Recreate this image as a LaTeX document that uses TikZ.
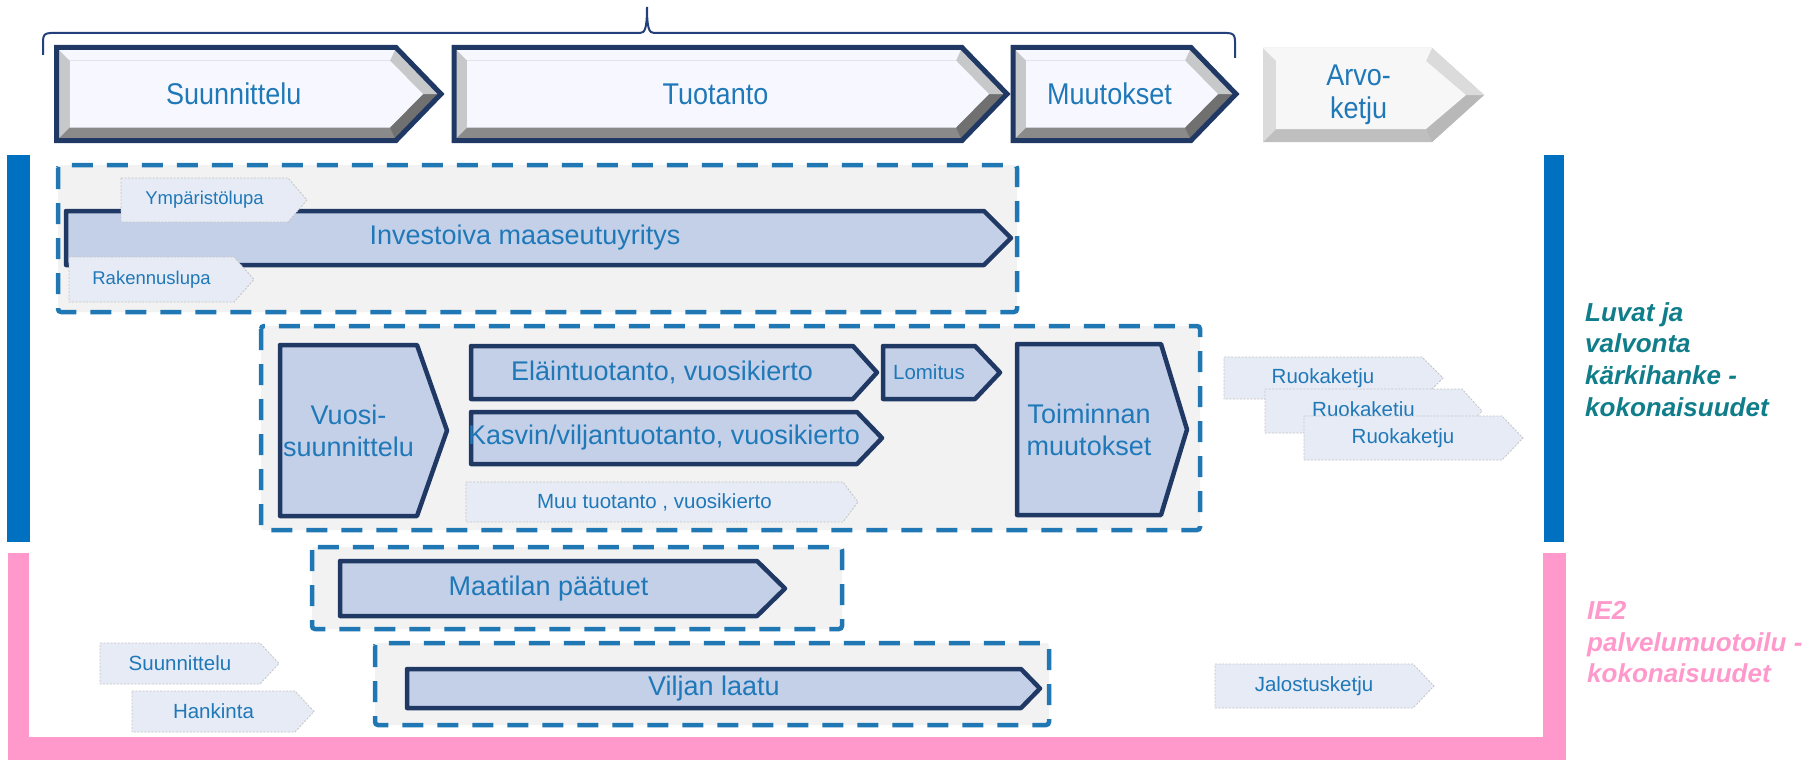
\documentclass[tikz,border=0pt]{standalone}
\usepackage{fontspec}
\setmainfont{Liberation Sans}
\newfontfamily\narrowfont{Liberation Sans}[FakeStretch=0.9]

\definecolor{navy}{HTML}{203864}
\definecolor{textblue}{HTML}{1F78B8}
\definecolor{dashblue}{HTML}{1F78B4}
\definecolor{chevfill}{HTML}{C4D0E8}
\definecolor{tagfill}{HTML}{E6EBF5}
\definecolor{taggray}{HTML}{C4C4C4}
\definecolor{groupfill}{HTML}{F2F2F2}
\definecolor{barblue}{HTML}{0070C0}
\definecolor{barpink}{HTML}{FF99CC}
\definecolor{labelteal}{HTML}{0F7D8A}
\definecolor{bracenavy}{HTML}{24407A}

\tikzset{
	flowbox/.style={fill=chevfill, draw=navy, line width=4.5pt, line join=round},
	flowbox text/.style={text=textblue, font=\fontsize{27}{32}\selectfont, align=center, inner sep=0pt},
	flowsmall/.style={flowbox},
	flowsmall text/.style={flowbox text, font=\fontsize{20.5}{24}\selectfont},
	tagbox/.style={fill=tagfill, draw=taggray, line width=0.8pt, dash pattern=on 2pt off 1.5pt},
	tagbox text/.style={text=textblue, font=\fontsize{20.5}{24}\selectfont, inner sep=0pt},
	smalltag/.style={tagbox},
	smalltag text/.style={tagbox text, font=\fontsize{18.5}{22}\selectfont},
	groupbox/.style={fill=groupfill, draw=dashblue, line width=4.5pt, dash pattern=on 21pt off 14pt, rounded corners=3pt},
	bevel low/.style={fill=black!46},
	bevel shade/.style={fill=black!56},
	bevel high/.style={fill=navy!8!black!22},
	bevel top/.style={fill=white!97!blue},
	bevel face/.style={fill=blue!3!white},
	bevel edge/.style={draw=navy, line width=5pt, line join=miter},
	bevel text/.style={text=textblue, font=\narrowfont\fontsize{30}{33}\selectfont, align=center, inner sep=0pt},
	sidelabel/.style={font=\bfseries\itshape\fontsize{26}{31.7}\selectfont, align=left, inner sep=0pt, anchor=north west},
	bracket/.style={draw=bracenavy, line width=2pt}
}

% arrow shaped box: [style]{name}{x1}{y1}{x2}{y2}{tip depth}{text}
\newcommand{\arrowbox}[8][flowbox]{%
	\path[#1] (#3,#4) -- (#5-#7,#4) -- (#5,{(#4+#6)/2}) -- (#5-#7,#6) -- (#3,#6) -- cycle;
	\node[#1 text] (#2) at ({(#3+#5-#7)/2},{(#4+#6)/2}) {#8};
}

% bevelled phase arrow: {name}{x1}{y1}{x2}{y2}{tip depth}{text}
\newcommand{\bevelbox}[7]{%
	\path[bevel low] (#2,#3) -- (#4-#6,#3) -- (#4,{(#3+#5)/2}) -- (#4-#6,#5) -- (#2,#5) -- cycle;
	\path[bevel shade] (#4,{(#3+#5)/2}) -- (#4-#6,#5) -- (#4-#6-6,#5-13) -- (#4-18,{(#3+#5)/2}) -- cycle;
	\path[bevel high] (#2,#3) -- (#4-#6,#3) -- (#4,{(#3+#5)/2}) -- (#4-18,{(#3+#5)/2}) -- (#4-#6-6,#3+13) -- (#2+13,#3+13) -- (#2+13,#5-13) -- (#2,#5) -- cycle;
	\path[bevel top] (#2,#3) -- (#4-#6,#3) -- (#4-#6-6,#3+13) -- (#2+13,#3+13) -- cycle;
	\path[bevel face] (#2+13,#3+13) -- (#4-#6-6,#3+13) -- (#4-18,{(#3+#5)/2}) -- (#4-#6-6,#5-13) -- (#2+13,#5-13) -- cycle;
	\path[bevel edge] (#2,#3) -- (#4-#6,#3) -- (#4,{(#3+#5)/2}) -- (#4-#6,#5) -- (#2,#5) -- cycle;
	\node[bevel text] (#1) at ({(#2+#4-30)/2},{(#3+#5)/2}) {#7};
}

\begin{document}
\begin{tikzpicture}[x=1pt, y=-1pt]
\useasboundingbox (0,0) rectangle (1812,760);

% side bars
\fill[barblue] (7,155) rectangle (30,542);
\fill[barblue] (1544,155) rectangle (1564,542);
\fill[barpink] (8,553) rectangle (29,760);
\fill[barpink] (8,737) rectangle (1566,760);
\fill[barpink] (1543,553) rectangle (1566,760);

% brace over the phases
\draw[bracket] (43,55) -- (43,41) .. controls (43,35) and (45,33) .. (51,33) -- (640,33)
	.. controls (645,33) and (647,28) .. (647,7) .. controls (647,28) and (649,33) .. (654,33)
	-- (1227,33) .. controls (1233,33) and (1235,35) .. (1235,41) -- (1235,58);

% phases
\foreach \n/\xa/\xb/\t in {
	suunnittelu/56.5/441/Suunnittelu%
	,tuotanto/454/1007/Tuotanto%
	,muutokset/1013/1236/Muutokset%
}{
	\bevelbox{\n}{\xa}{47.5}{\xb}{140.5}{45}{\t}
}
\begin{scope}[bevel low/.style={fill=black!25}, bevel shade/.style={fill=black!28},
	bevel high/.style={fill=black!14}, bevel top/.style={fill=black!3},
	bevel face/.style={fill=black!3}, bevel edge/.style={draw=none}]
	\bevelbox{arvoketju}{1263}{48}{1484}{142}{52}{Arvo-\\ketju}
\end{scope}

% dashed groups
\foreach \xa/\ya/\xb/\yb in {
	58/165/1017/312%
	,261/326/1200/530%
	,312/547/842/629%
	,375/643/1049/725%
}{
	\draw[groupbox] (\xa,\ya) rectangle (\xb,\yb);
}

% process arrows
\foreach \n/\xa/\ya/\xb/\yb/\d/\t in {
	invest/66/211/1011/265/27/{Investoiva maaseutuyritys}%
	,vuosi/280/345/447/516/30/{Vuosi-\\suunnittelu}%
	,elain/471/346/877/399/24/{Eläintuotanto, vuosikierto}%
	,kasvin/471/412/882/464/25/{Kasvin/viljantuotanto, vuosikierto}%
	,toiminta/1017/344/1187/515/26/{Toiminnan\\muutokset}%
	,maatila/340/561/785/616/28/{Maatilan päätuet}%
	,viljan/407/669/1040/708/19/{Viljan laatu}%
}{
	\arrowbox[flowbox]{\n}{\xa}{\ya}{\xb}{\yb}{\d}{\t}
}
\arrowbox[flowsmall]{lomitus}{883}{346}{1000}{399}{25}{Lomitus}

% small tags
\arrowbox[smalltag]{ymparisto}{121}{178}{307}{222}{19}{Ympäristölupa}
\arrowbox[smalltag]{rakennus}{69}{257}{254}{302}{20}{Rakennuslupa}
\foreach \n/\xa/\ya/\xb/\yb/\d/\t in {
	muu/466/482/858/522/15/{Muu tuotanto , vuosikierto}%
	,ruoka1/1224/357/1443/399/21/Ruokaketju%
	,ruoka2/1265/389/1482/433/20/Ruokaketju%
	,ruoka3/1304/416/1523/460/21/Ruokaketju%
	,suunn/100/643/279/684/19/Suunnittelu%
	,hankinta/132/691/314/732/19/Hankinta%
	,jalostus/1215/664/1434/708/21/Jalostusketju%
}{
	\arrowbox[tagbox]{\n}{\xa}{\ya}{\xb}{\yb}{\d}{\t}
}

% side labels
\node[sidelabel, text=labelteal] (luvat) at (1585,302) {Luvat ja\\valvonta\\kärkihanke -\\kokonaisuudet};
\node[sidelabel, text=barpink] (ie2) at (1587,601) {IE2\\palvelumuotoilu -\\kokonaisuudet};
\end{tikzpicture}
\end{document}
